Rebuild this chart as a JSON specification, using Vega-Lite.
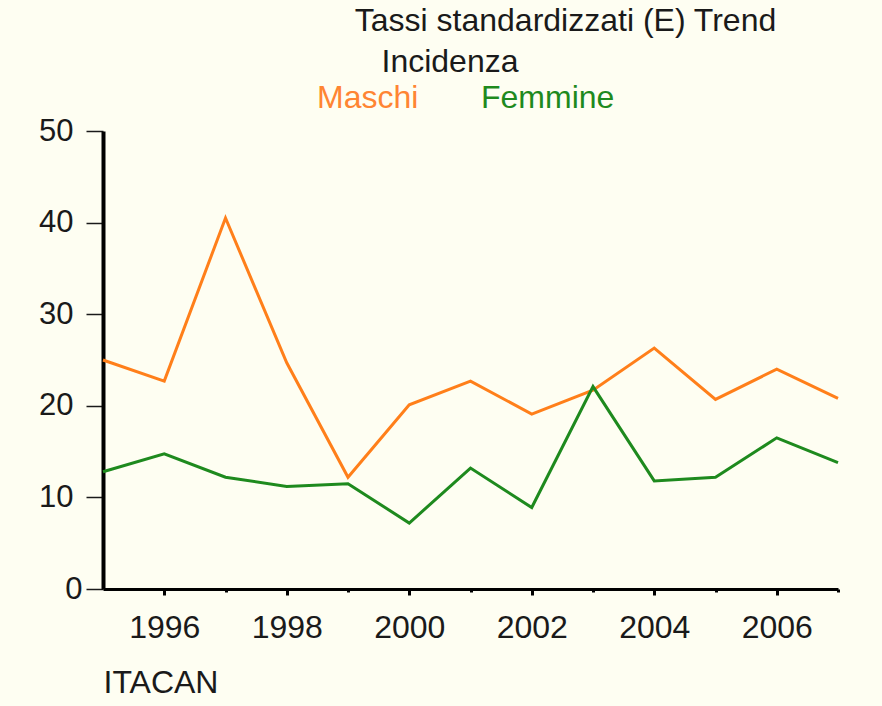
{
  "$schema": "https://vega.github.io/schema/vega-lite/v6.json",
  "width": 735,
  "height": 458,
  "autosize": "none",
  "padding": {"left": 103, "top": 131, "right": 44, "bottom": 117},
  "background": "#FEFEF2",
  "config": {"font": "Liberation Sans", "view": {"stroke": null}},
  "title": {
    "text": "Tassi standardizzati (E) Trend",
    "fontSize": 32,
    "fontWeight": "normal",
    "color": "#1a1a1a",
    "anchor": "middle",
    "dx": 95,
    "baseline": "alphabetic",
    "offset": -16
  },
  "data": {
    "values": [
      {"anno": 1995, "sesso": "Maschi", "tasso": 25.0},
      {"anno": 1996, "sesso": "Maschi", "tasso": 22.7},
      {"anno": 1997, "sesso": "Maschi", "tasso": 40.5},
      {"anno": 1998, "sesso": "Maschi", "tasso": 24.7},
      {"anno": 1999, "sesso": "Maschi", "tasso": 12.2},
      {"anno": 2000, "sesso": "Maschi", "tasso": 20.1},
      {"anno": 2001, "sesso": "Maschi", "tasso": 22.7},
      {"anno": 2002, "sesso": "Maschi", "tasso": 19.1},
      {"anno": 2003, "sesso": "Maschi", "tasso": 21.7},
      {"anno": 2004, "sesso": "Maschi", "tasso": 26.3},
      {"anno": 2005, "sesso": "Maschi", "tasso": 20.7},
      {"anno": 2006, "sesso": "Maschi", "tasso": 24.0},
      {"anno": 2007, "sesso": "Maschi", "tasso": 20.8},
      {"anno": 1995, "sesso": "Femmine", "tasso": 12.8},
      {"anno": 1996, "sesso": "Femmine", "tasso": 14.75},
      {"anno": 1997, "sesso": "Femmine", "tasso": 12.2},
      {"anno": 1998, "sesso": "Femmine", "tasso": 11.2},
      {"anno": 1999, "sesso": "Femmine", "tasso": 11.5},
      {"anno": 2000, "sesso": "Femmine", "tasso": 7.2},
      {"anno": 2001, "sesso": "Femmine", "tasso": 13.2},
      {"anno": 2002, "sesso": "Femmine", "tasso": 8.9},
      {"anno": 2003, "sesso": "Femmine", "tasso": 22.1},
      {"anno": 2004, "sesso": "Femmine", "tasso": 11.8},
      {"anno": 2005, "sesso": "Femmine", "tasso": 12.2},
      {"anno": 2006, "sesso": "Femmine", "tasso": 16.5},
      {"anno": 2007, "sesso": "Femmine", "tasso": 13.8}
    ]
  },
  "mark": {"type": "line", "strokeWidth": 3},
  "encoding": {
    "x": {
      "field": "anno",
      "type": "quantitative",
      "scale": {"domain": [1995, 2007], "nice": false, "zero": false},
      "axis": {
        "values": [1996, 1997, 1998, 1999, 2000, 2001, 2002, 2003, 2004, 2005, 2006, 2007],
        "format": "d",
        "labelExpr": "datum.value % 2 == 0 ? datum.label : ''",
        "grid": false,
        "domainColor": "#000000",
        "domainWidth": 3,
        "tickColor": "#000000",
        "tickWidth": 3,
        "tickSize": {"condition": {"test": "datum.value % 2 == 0", "value": 6}, "value": 3},
        "labelFontSize": 32,
        "labelColor": "#1a1a1a",
        "labelPadding": 17,
        "labelFlush": false,
        "title": "ITACAN",
        "titleFontSize": 32,
        "titleFontWeight": "normal",
        "titleColor": "#1a1a1a",
        "titleAnchor": "start",
        "titleAlign": "left",
        "titlePadding": 24
      }
    },
    "y": {
      "field": "tasso",
      "type": "quantitative",
      "scale": {"domain": [0, 50], "nice": false},
      "axis": {
        "values": [0, 10, 20, 30, 40, 50],
        "grid": false,
        "title": null,
        "domainColor": "#000000",
        "domainWidth": 4,
        "tickColor": "#1a1a1a",
        "tickWidth": 1.5,
        "tickSize": 17,
        "labelFontSize": 31,
        "labelColor": "#1a1a1a",
        "labelPadding": {"condition": {"test": "datum.value == 0", "value": 4}, "value": 13},
        "labelFlush": false
      }
    },
    "color": {
      "field": "sesso",
      "type": "nominal",
      "scale": {"domain": ["Maschi", "Femmine"], "range": ["#FF7F1A", "#1E8A1E"]},
      "legend": {
        "orient": "none",
        "legendX": 182,
        "legendY": -84,
        "direction": "horizontal",
        "title": "Incidenza",
        "titleFontSize": 32,
        "titleFontWeight": "normal",
        "titleColor": "#1a1a1a",
        "titleAnchor": "middle",
        "titlePadding": 3,
        "labelFontSize": 32,
        "labelColor": {"expr": "datum.value == 'Maschi' ? '#FF8533' : '#1E8A1E'"},
        "labelLimit": 0,
        "symbolSize": 0,
        "symbolOpacity": 0,
        "symbolStrokeWidth": 0,
        "labelOffset": 0,
        "columnPadding": 30
      }
    }
  }
}
